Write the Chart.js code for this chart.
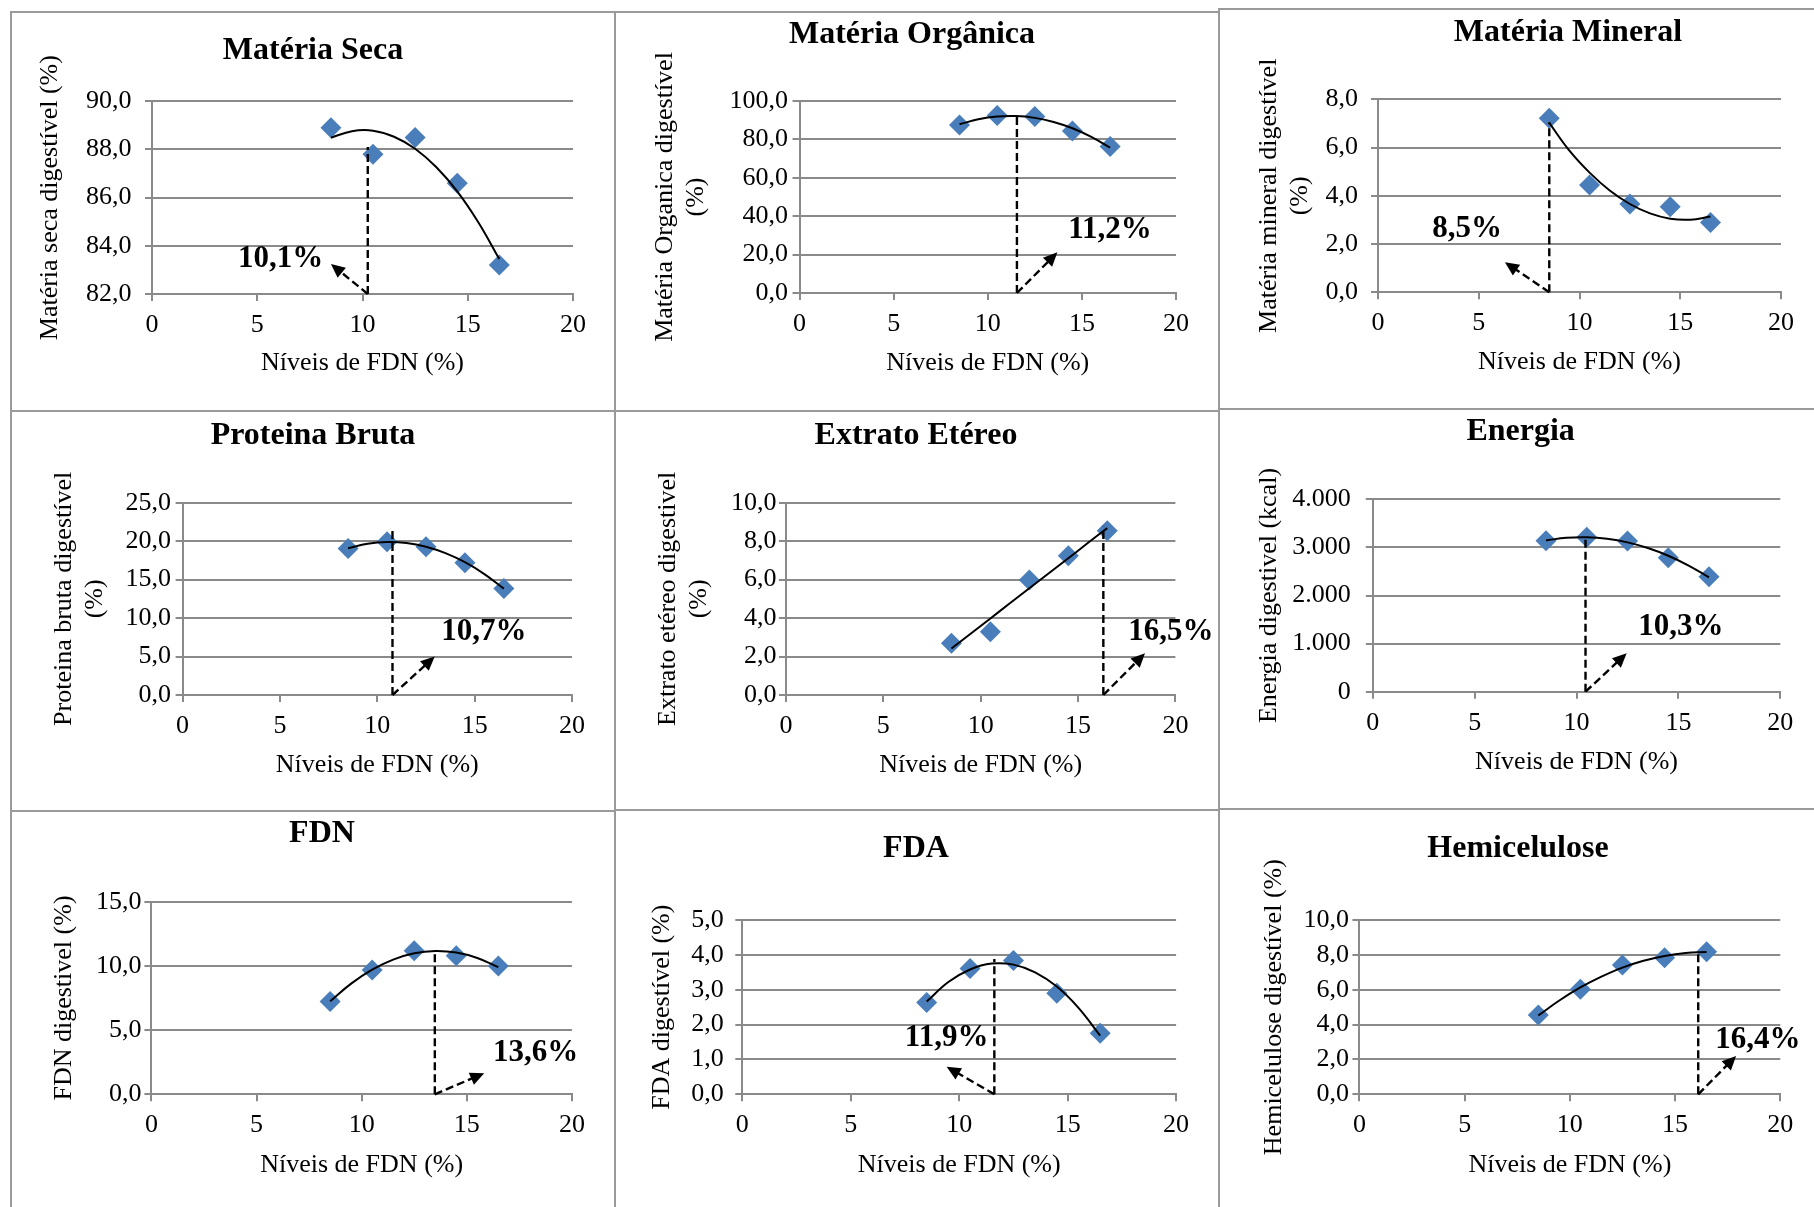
<!DOCTYPE html>
<html lang="pt">
<head>
    <meta charset="UTF-8">
    <title>Digestibilidade em função dos níveis de FDN</title>
    <script src="https://cdn.jsdelivr.net/npm/chart.js"></script>
    <style>
        html, body { margin: 0; padding: 0; background: #fff; }
        #page { position: relative; width: 1814px; height: 1207px; overflow: hidden; }
        #page canvas { position: absolute; }
        .rule { position: absolute; background: #9a9a9a; }
    </style>
</head>
<body>
    <div id="page"></div>

    <script>
        // ---- data ----
        const fdnLevels = [8.5, 10.5, 12.5, 14.5, 16.5];
        const trendLevels = [8.5, 9.5, 10.5, 11.5, 12.5, 13.5, 14.5, 15.5, 16.5];
        const xTickLabels = ['0', '5', '10', '15', '20'];

        const materiaSeca = [88.9, 87.8, 88.5, 86.6, 83.2];
        const materiaOrganica = [87.5, 92.4, 91.9, 84.4, 76.3];
        const materiaMineral = [7.21, 4.45, 3.66, 3.55, 2.89];
        const proteinaBruta = [19.06, 19.93, 19.28, 17.2, 13.86];
        const extratoEtereo = [2.69, 3.29, 5.98, 7.24, 8.54];
        const energia = [3140, 3210, 3133, 2787, 2392];
        const fdn = [7.22, 9.68, 11.18, 10.8, 9.99];
        const fda = [2.63, 3.61, 3.84, 2.90, 1.75];
        const hemicelulose = [4.55, 6.02, 7.42, 7.84, 8.18];

        // trend curves at trendLevels
        const trendMS = [88.49, 88.76, 88.78, 88.53, 88.03, 87.27, 86.26, 84.98, 83.45];
        const trendMO = [87.86, 90.47, 91.89, 92.14, 91.21, 89.10, 85.81, 81.35, 75.70];
        const trendMM = [7.02, 5.87, 4.96, 4.22, 3.66, 3.27, 3.05, 3.01, 3.14];
        const trendPB = [19.08, 19.66, 19.88, 19.75, 19.27, 18.44, 17.26, 15.72, 13.83];
        const trendEE = [2.42, 3.20, 3.98, 4.77, 5.55, 6.33, 7.11, 7.90, 8.68];
        const trendEN = [3145, 3199, 3210, 3178, 3104, 2986, 2826, 2623, 2377];
        const trendFDN = [7.24, 8.62, 9.71, 10.49, 10.98, 11.16, 11.04, 10.62, 9.90];
        const trendFDA = [2.66, 3.22, 3.58, 3.75, 3.72, 3.50, 3.09, 2.48, 1.68];
        const trendHC = [4.52, 5.38, 6.13, 6.75, 7.27, 7.66, 7.94, 8.11, 8.16];

        const series = [materiaSeca, materiaOrganica, materiaMineral, proteinaBruta, extratoEtereo, energia, fdn, fda, hemicelulose];
        const trends = [trendMS, trendMO, trendMM, trendPB, trendEE, trendEN, trendFDN, trendFDA, trendHC];

        const panelTitles = ['Matéria Seca', 'Matéria Orgânica', 'Matéria Mineral', 'Proteina Bruta',
            'Extrato Etéreo', 'Energia', 'FDN', 'FDA', 'Hemicelulose'];
        const yAxisTitles = [
            'Matéria seca digestível (%)',
            ['Matéria Organica digestível', '(%)'],
            ['Matéria mineral digestível', '(%)'],
            ['Proteina bruta digestível', '(%)'],
            ['Extrato etéreo digestivel', '(%)'],
            'Energia digestivel (kcal)',
            'FDN digestivel (%)',
            'FDA digestível (%)',
            'Hemicelulose digestível (%)'
        ];
        const yMin = [82, 0, 0, 0, 0, 0, 0, 0, 0];
        const yMax = [90, 100, 8, 25, 10, 4000, 15, 5, 10];
        const yStep = [2, 20, 2, 5, 2, 1000, 5, 1, 2];
        const yTickLabels = [
            ['82,0', '84,0', '86,0', '88,0', '90,0'],
            ['0,0', '20,0', '40,0', '60,0', '80,0', '100,0'],
            ['0,0', '2,0', '4,0', '6,0', '8,0'],
            ['0,0', '5,0', '10,0', '15,0', '20,0', '25,0'],
            ['0,0', '2,0', '4,0', '6,0', '8,0', '10,0'],
            ['0', '1.000', '2.000', '3.000', '4.000'],
            ['0,0', '5,0', '10,0', '15,0'],
            ['0,0', '1,0', '2,0', '3,0', '4,0', '5,0'],
            ['0,0', '2,0', '4,0', '6,0', '8,0', '10,0']
        ];

        // optimum level marked on each panel
        const optimumLabels = ['10,1%', '11,2%', '8,5%', '10,7%', '16,5%', '10,3%', '13,6%', '11,9%', '16,4%'];
        const guideX = [10.25, 11.55, 8.5, 10.78, 16.3, 10.44, 13.48, 11.62, 16.1];
        const guideTop = [88.1, 92.3, 7.05, 21.7, 8.75, 3224, 11.19, 3.88, 8.18];
        const arrowX = [8.5, 13.7, 6.3, 12.95, 18.44, 12.46, 15.83, 9.42, 17.9];
        const arrowY = [83.25, 21.2, 1.25, 5.0, 2.17, 797, 1.64, 0.79, 2.2];
        const labelX = [6.11, 16.49, 4.42, 15.48, 19.77, 15.12, 18.27, 9.42, 18.93];
        const labelY = [83.45, 32.8, 2.61, 8.22, 3.29, 1351, 3.19, 1.61, 3.12];

        // ---- page layout (pixels) ----
        // cell: [left, top, right, bottom], plot: [left, top, right, bottom]
        const panelLayout = [
            { cell: [12, 12, 614, 410], plot: [152, 101.3, 573, 294], title: [313, 50.5], yTitleX: 50.5, xTitleY: 363.5, tickPad: 13.5 },
            { cell: [615, 12, 1218, 410], plot: [799.5, 101, 1176, 293], title: [912, 35], yTitleX: 665, xTitleY: 363.5, tickPad: 4.5 },
            { cell: [1220, 12, 1814, 410], plot: [1378, 99.3, 1781, 292.3], title: [1568, 33], yTitleX: 1269, xTitleY: 362, tickPad: 13 },
            { cell: [12, 412, 614, 809], plot: [182.6, 502.7, 572, 695], title: [313, 435.7], yTitleX: 64, xTitleY: 765, tickPad: 4.6 },
            { cell: [615, 412, 1218, 809], plot: [785.9, 502.7, 1175.4, 695], title: [916, 436], yTitleX: 668, xTitleY: 765, tickPad: 2.5 },
            { cell: [1220, 412, 1814, 809], plot: [1372.8, 499.3, 1780.3, 691.7], title: [1520.6, 432], yTitleX: 1269, xTitleY: 762, tickPad: 15 },
            { cell: [12, 812, 614, 1207], plot: [151.4, 901.7, 571.9, 1094.3], title: [322, 834], yTitleX: 64, xTitleY: 1165, tickPad: 3 },
            { cell: [615, 812, 1218, 1207], plot: [742.3, 920, 1176.1, 1094.3], title: [916, 849], yTitleX: 662, xTitleY: 1165, tickPad: 11.5 },
            { cell: [1220, 812, 1814, 1207], plot: [1359.4, 920, 1780.3, 1094.3], title: [1518, 849], yTitleX: 1274, xTitleY: 1165, tickPad: 3.4 }
        ];

        // frame lines around the panels: [left, top, width, height]
        const rules = [
            [11, 10.5, 1208, 2], [1218, 8.3, 596, 2],
            [11, 410, 1208, 2], [1218, 407.5, 596, 2],
            [11, 810, 604, 2], [614, 809, 605, 2], [1218, 808, 596, 2],
            [10, 11, 2, 1196], [613.5, 11, 2, 1196], [1217.5, 8, 2, 1199]
        ];

        const AXIS_FONT = 26;
        const HALF_LINE = AXIS_FONT * 1.2 / 2;
        const GRID = '#8a8a8a';
        const MARKER = '#4a7ebb';
        const FONT_FAMILY = "'Liberation Serif', 'Times New Roman', serif";

        Chart.defaults.font.family = FONT_FAMILY;
        Chart.defaults.color = '#000';

        const page = document.getElementById('page');

        rules.forEach(r => {
            const d = document.createElement('div');
            d.className = 'rule';
            d.style.left = r[0] + 'px';
            d.style.top = r[1] + 'px';
            d.style.width = r[2] + 'px';
            d.style.height = r[3] + 'px';
            page.appendChild(d);
        });

        function drawArrowHead(ctx, x0, y0, x1, y1) {
            const ang = Math.atan2(y1 - y0, x1 - x0);
            const len = 14, wid = 6.5;
            ctx.beginPath();
            ctx.moveTo(x1, y1);
            ctx.lineTo(x1 - len * Math.cos(ang) + wid * Math.sin(ang), y1 - len * Math.sin(ang) - wid * Math.cos(ang));
            ctx.lineTo(x1 - len * Math.cos(ang) - wid * Math.sin(ang), y1 - len * Math.sin(ang) + wid * Math.cos(ang));
            ctx.closePath();
            ctx.fill();
        }

        // panel title + optimum marker (dashed guide, dashed arrow, bold label)
        const optimumPlugin = {
            id: 'optimum',
            afterDatasetsDraw(chart, args, opts) {
                const i = opts.index;
                const lay = panelLayout[i];
                const { ctx } = chart;
                const xs = chart.scales.x, ys = chart.scales.y;

                const gx = xs.getPixelForValue(guideX[i]);
                const gy0 = ys.getPixelForValue(yMin[i]);
                const gy1 = ys.getPixelForValue(guideTop[i]);
                const ax = xs.getPixelForValue(arrowX[i]);
                const ay = ys.getPixelForValue(arrowY[i]);

                ctx.save();
                ctx.strokeStyle = '#000';
                ctx.fillStyle = '#000';
                ctx.lineWidth = 2.4;
                ctx.setLineDash([8, 4]);
                ctx.beginPath();
                ctx.moveTo(gx, gy0);
                ctx.lineTo(gx, gy1);
                ctx.stroke();

                const ang = Math.atan2(ay - gy0, ax - gx);
                ctx.beginPath();
                ctx.moveTo(gx, gy0);
                ctx.lineTo(ax - 10 * Math.cos(ang), ay - 10 * Math.sin(ang));
                ctx.stroke();
                ctx.setLineDash([]);
                drawArrowHead(ctx, gx, gy0, ax, ay);

                ctx.font = 'bold 31px ' + FONT_FAMILY;
                ctx.textAlign = 'center';
                ctx.textBaseline = 'middle';
                ctx.fillText(optimumLabels[i], xs.getPixelForValue(labelX[i]), ys.getPixelForValue(labelY[i]));

                ctx.font = 'bold 32px ' + FONT_FAMILY;
                ctx.fillText(panelTitles[i], lay.title[0] - lay.cell[0], lay.title[1] - lay.cell[1]);
                ctx.restore();
            }
        };

        panelLayout.forEach((lay, i) => {
            const [cl, ct, cr, cb] = lay.cell;
            const [pl, pt, pr, pb] = lay.plot;

            const canvas = document.createElement('canvas');
            canvas.width = cr - cl;
            canvas.height = cb - ct;
            canvas.style.left = cl + 'px';
            canvas.style.top = ct + 'px';
            page.appendChild(canvas);

            const titleLeft = lay.yTitleX - HALF_LINE;
            const titleBottom = lay.xTitleY + HALF_LINE;

            new Chart(canvas, {
                type: 'scatter',
                data: {
                    datasets: [
                        {
                            label: 'Tendência',
                            data: trendLevels.map((x, k) => ({ x: x, y: trends[i][k] })),
                            showLine: true,
                            borderColor: '#000',
                            borderWidth: 2,
                            pointRadius: 0,
                            tension: 0.4,
                            order: 0
                        },
                        {
                            label: panelTitles[i],
                            data: fdnLevels.map((x, k) => ({ x: x, y: series[i][k] })),
                            pointStyle: 'rectRot',
                            pointRadius: 10.5,
                            backgroundColor: MARKER,
                            borderColor: MARKER,
                            borderWidth: 0,
                            order: 1
                        }
                    ]
                },
                options: {
                    responsive: false,
                    animation: false,
                    devicePixelRatio: 1,
                    layout: {
                        padding: {
                            left: titleLeft - cl,
                            top: pt - ct,
                            right: cr - pr,
                            bottom: cb - titleBottom
                        }
                    },
                    plugins: {
                        legend: { display: false },
                        tooltip: { enabled: false },
                        optimum: { index: i }
                    },
                    scales: {
                        x: {
                            type: 'linear',
                            min: 0,
                            max: 20,
                            ticks: {
                                stepSize: 5,
                                padding: 8.5,
                                maxRotation: 0,
                                font: { size: AXIS_FONT },
                                callback: (v, k) => xTickLabels[k]
                            },
                            grid: { drawOnChartArea: false, drawTicks: true, tickLength: 7, color: GRID, lineWidth: 2 },
                            border: { display: true, color: GRID, width: 2 },
                            title: { display: true, text: 'Níveis de FDN (%)', font: { size: AXIS_FONT }, padding: 0 },
                            afterFit: s => { s.height = titleBottom - pb; }
                        },
                        y: {
                            type: 'linear',
                            min: yMin[i],
                            max: yMax[i],
                            ticks: {
                                stepSize: yStep[i],
                                padding: lay.tickPad,
                                font: { size: AXIS_FONT },
                                callback: (v, k) => yTickLabels[i][k]
                            },
                            grid: { color: GRID, lineWidth: 2, tickLength: 7 },
                            border: { display: true, color: GRID, width: 2 },
                            title: { display: true, text: yAxisTitles[i], font: { size: AXIS_FONT }, padding: 0 },
                            afterFit: s => { s.width = pl - titleLeft; }
                        }
                    }
                },
                plugins: [optimumPlugin]
            });
        });
    </script>
</body>
</html>
